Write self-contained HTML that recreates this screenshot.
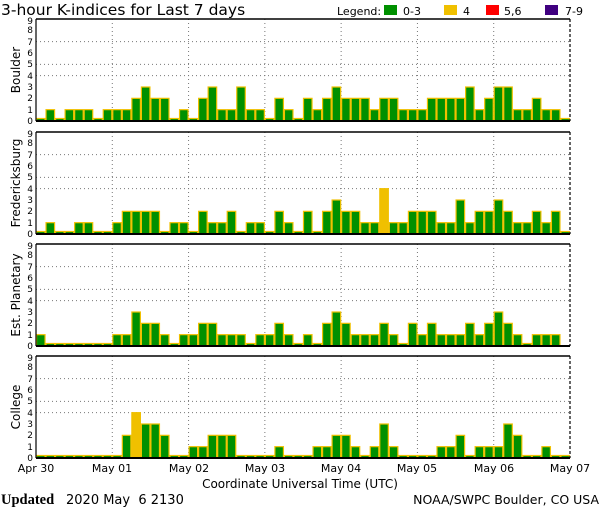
<!DOCTYPE html>
<html><head><meta charset="utf-8"><style>
body{margin:0;background:#fff;}
svg{display:block;font-family:"DejaVu Sans","Liberation Sans",sans-serif;}
</style></head><body>
<svg id="s" width="600" height="510" viewBox="0 0 600 510" xmlns="http://www.w3.org/2000/svg">
<rect width="600" height="510" fill="#fff"/>
<text x="1" y="15" font-size="15.5" fill="#000">3-hour K-indices for Last 7 days</text>
<text x="337" y="15" font-size="11">Legend:</text>
<rect x="384" y="5" width="13" height="10" fill="#009000"/><text x="403" y="15" font-size="11">0-3</text>
<rect x="444" y="5" width="13" height="10" fill="#f0c000"/><text x="463" y="15" font-size="11">4</text>
<rect x="486" y="5" width="13" height="10" fill="#ff0000"/><text x="504" y="15" font-size="11">5,6</text>
<rect x="545" y="5" width="13" height="10" fill="#400080"/><text x="565" y="15" font-size="11">7-9</text>
<g font-size="12" transform="rotate(-90)">
<text x="-70" y="20" text-anchor="middle">Boulder</text>
<text x="-183" y="20" text-anchor="middle">Fredericksburg</text>
<text x="-295" y="20" text-anchor="middle">Est. Planetary</text>
<text x="-407" y="20" text-anchor="middle">College</text>
</g>
<g font-size="11" text-anchor="middle">
<text x="36" y="472">Apr 30</text><text x="112" y="472">May 01</text><text x="189" y="472">May 02</text><text x="265" y="472">May 03</text><text x="341" y="472">May 04</text><text x="417" y="472">May 05</text><text x="494" y="472">May 06</text><text x="570" y="472">May 07</text>
<text x="300" y="488" font-size="12">Coordinate Universal Time (UTC)</text>
</g>
<text x="1" y="504" font-size="14.5" font-family="Liberation Serif,serif" font-weight="bold">Updated</text>
<text x="66" y="504" font-size="13" xml:space="preserve">2020 May  6 2130</text>
<text x="599" y="504" font-size="12.5" text-anchor="end">NOAA/SWPC Boulder, CO USA</text>
<g id="ticks" font-size="9" text-anchor="end">
<text x="33" y="124">0</text><text x="33" y="113">1</text><text x="33" y="101">2</text><text x="33" y="90">3</text><text x="33" y="79">4</text><text x="33" y="67">5</text><text x="33" y="56">6</text><text x="33" y="45">7</text><text x="33" y="33">8</text><text x="33" y="24">9</text>
</g>
<g id="plots"></g>
</svg>
<script>
var D=[
[0,1,0,1,1,1,0,1,1,1,2,3,2,2,0,1,0,2,3,1,1,3,1,1,0,2,1,0,2,1,2,3,2,2,2,1,2,2,1,1,1,2,2,2,2,3,1,2,3,3,1,1,2,1,1,0],
[0,1,0,0,1,1,0,0,1,2,2,2,2,0,1,1,0,2,1,1,2,0,1,1,0,2,1,0,2,0,2,3,2,2,1,1,4,1,1,2,2,2,1,1,3,1,2,2,3,2,1,1,2,1,2,0],
[1,0,0,0,0,0,0,0,1,1,3,2,2,1,0,1,1,2,2,1,1,1,0,1,1,2,1,0,1,0,2,3,2,1,1,1,2,1,0,2,1,2,1,1,1,2,1,2,3,2,1,0,1,1,1,null],
[0,0,0,0,0,0,0,0,0,2,4,3,3,2,0,0,1,1,2,2,2,0,0,0,0,1,0,0,0,1,1,2,2,1,0,1,3,1,0,0,0,0,1,1,2,0,1,1,1,3,2,0,0,1,0,0]];
var tops=[19,132,244,356],g=document.getElementById('plots'),h='';
var L=36,R=570,W=(R-L)/56,H=102,u=H/9;
var tk=document.getElementById('ticks').innerHTML;
for(var p=0;p<4;p++){var t=tops[p],b=t+H;
 if(p>0)h+='<g font-size="9" text-anchor="end" transform="translate(0,'+(t-19)+')">'+tk+'</g>';
 [4,5,7].forEach(function(k){var y=b-k*u;h+='<line x1="'+L+'" x2="'+R+'" y1="'+y+'" y2="'+y+'" stroke="#777" stroke-dasharray="1,3"/>';});
 for(var d=1;d<7;d++){var x=L+d*8*W;h+='<line x1="'+x+'" x2="'+x+'" y1="'+t+'" y2="'+b+'" stroke="#777" stroke-dasharray="1,3"/>';}
 D[p].forEach(function(v,i){if(v===null)return;var x=L+i*W,hh=v==0?2.5:v*u,c=v>=4?'#f0c000':'#009000';
  h+='<rect x="'+(x+0.5)+'" y="'+(b-hh)+'" width="'+(W-1)+'" height="'+hh+'" fill="'+c+'" stroke="#f0c000" stroke-width="1.2"/>';});
 h+='<line x1="'+L+'" x2="'+R+'" y1="'+t+'" y2="'+t+'" stroke="#000" stroke-width="1.5"/>';
 h+='<line x1="'+L+'" x2="'+R+'" y1="'+b+'" y2="'+b+'" stroke="#000" stroke-width="2"/>';
 h+='<line x1="'+L+'" x2="'+L+'" y1="'+t+'" y2="'+b+'" stroke="#000" stroke-width="1.2"/>';
 h+='<line x1="'+R+'" x2="'+R+'" y1="'+t+'" y2="'+b+'" stroke="#000" stroke-width="1.2" stroke-dasharray="3,2"/>';
}
g.innerHTML=h;
</script>
</body></html>
